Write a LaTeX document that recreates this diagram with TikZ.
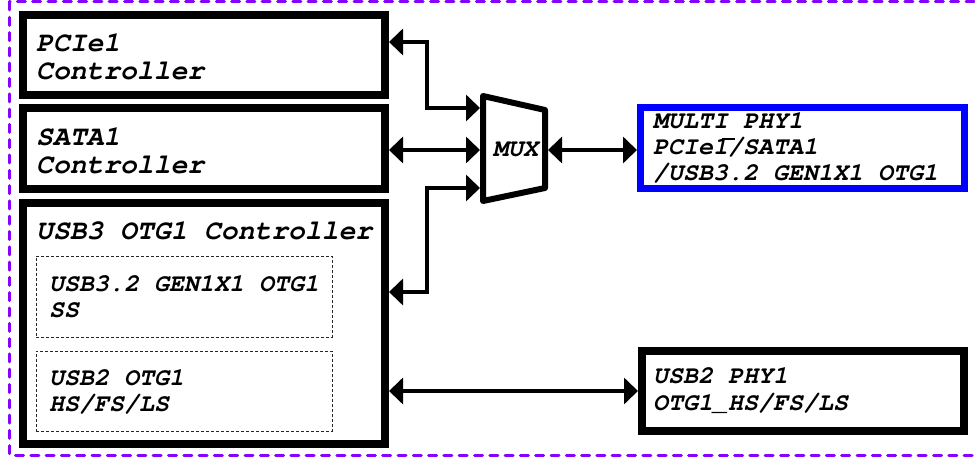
\documentclass[tikz,border=0pt]{standalone}
\usepackage[T1]{fontenc}
\usetikzlibrary{arrows.meta}
\newcommand{\courbi}{\fontencoding{T1}\fontfamily{pcr}\fontseries{b}\fontshape{sl}}
\definecolor{borderviolet}{RGB}{136,0,255}
\definecolor{phyblue}{RGB}{0,0,255}
\tikzset{
  box/.style={draw=black, line width=8pt, fill=white, inner sep=0pt},
  subbox/.style={draw=black!85, line width=0.9pt, dash pattern=on 3pt off 2pt, inner sep=0pt},
  bigtxt/.style={anchor=base west, inner sep=0pt, font=\courbi\fontsize{28}{28}\selectfont},
  smalltxt/.style={anchor=base west, inner sep=0pt, font=\courbi\fontsize{25}{25}\selectfont},
  conn/.style={line width=3.5pt, {Triangle[length=14pt,width=26pt]}-{Triangle[length=14pt,width=26pt]}}
}
\begin{document}
\begin{tikzpicture}[x=1pt,y=-1pt]
\useasboundingbox (0,0) rectangle (975,457);
% outer dashed border
\begin{scope}
\clip (0,0) rectangle (975,457);
\draw[borderviolet, line width=3pt, line cap=round, dash pattern=on 8pt off 7.3pt] (9.5,2) rectangle (995,455);
\end{scope}

% controller boxes
\node[box, minimum width=362, minimum height=80] (pcie) at (204,55) {};
\node[box, minimum width=362, minimum height=81] (sata) at (204,148.5) {};
\node[box, minimum width=362, minimum height=241] (usb) at (204,323.5) {};
\node[subbox, minimum width=296, minimum height=81] (ss) at (184,296.5) {};
\node[subbox, minimum width=296, minimum height=80] (hs) at (184,391) {};

\node[bigtxt] (t1) at (36,52) {PCIe1};
\node[bigtxt] (t2) at (36,80) {Controller};
\node[bigtxt] (t3) at (36,146) {SATA1};
\node[bigtxt] (t4) at (36,174) {Controller};
\node[bigtxt] (t5) at (36,240) {USB3 OTG1 Controller};
\node[smalltxt] (t6) at (49,291) {USB3.2 GEN1X1 OTG1};
\node[smalltxt] (t7) at (49,317) {SS};
\node[smalltxt] (t8) at (49,385) {USB2 OTG1};
\node[smalltxt] (t9) at (49,411) {HS/FS/LS};

% PHY boxes
\node[box, draw=phyblue, line width=7pt, minimum width=324, minimum height=81] (multi) at (802.5,148) {};
\node[box, minimum width=322, minimum height=80] (uphy) at (803,391) {};
\node[smalltxt] (m1) at (653,129) {MULTI PHY1};
\node[smalltxt] (m2) at (653,155) {PCIe1/SATA1};
\node[smalltxt] (m3) at (653,181) {/USB3.2 GEN1X1 OTG1};
\draw[line width=1.6pt] (722,139) -- (735,139);
\node[smalltxt] (u1) at (653,383) {USB2 PHY1};
\node[smalltxt] (u2) at (653,410) {OTG1\_HS/FS/LS};

% MUX
\draw[line width=6pt, line join=round, fill=white] (483,96) -- (545,110) -- (545,188) -- (483,201) -- cycle;
\node[smalltxt] (mux) at (493,157) {MUX};
\coordinate (muxtop) at (480,108);
\coordinate (muxmid) at (480,150);
\coordinate (muxbot) at (480,188);
\coordinate (muxout) at (548,150);

% junctions
\coordinate (j1) at (427,42);
\coordinate (j3) at (427,292);

% connectors
\draw[conn] (pcie.east |- j1) -- (j1) |- (muxtop);
\draw[conn] (sata.east |- muxmid) -- (muxmid);
\draw[conn] (usb.east |- j3) -- (j3) |- (muxbot);
\draw[conn] (muxout) -- (multi.west |- muxout);
\draw[conn] (uphy.west -| usb.east) -- (uphy.west);
\end{tikzpicture}
\end{document}
